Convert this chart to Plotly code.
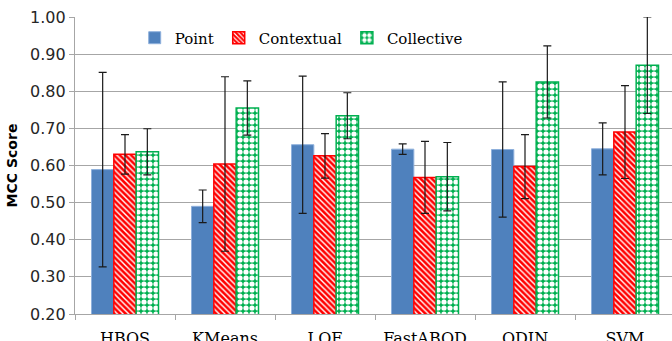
import plotly.graph_objects as go

categories = ["HBOS", "KMeans", "LOF", "FastABOD", "ODIN", "SVM"]
point = [0.589, 0.490, 0.656, 0.644, 0.643, 0.645]
point_err = [0.262, 0.044, 0.185, 0.014, 0.182, 0.070]
contextual = [0.630, 0.604, 0.626, 0.568, 0.597, 0.690]
contextual_err = [0.053, 0.235, 0.060, 0.097, 0.086, 0.125]
collective = [0.637, 0.755, 0.734, 0.570, 0.825, 0.870]
collective_err = [0.062, 0.073, 0.062, 0.092, 0.097, 0.130]

err_style = dict(type="data", visible=True, color="#1a1a1a", thickness=1.2, width=4)

fig = go.Figure()
fig.add_trace(go.Bar(
    name="Point", x=categories, y=point,
    error_y=dict(array=point_err, **err_style),
    marker=dict(color="#4F81BD", line=dict(color="#8EB0DC", width=1)),
))
fig.add_trace(go.Bar(
    name="Contextual", x=categories, y=contextual,
    error_y=dict(array=contextual_err, **err_style),
    marker=dict(color="#FF0000", line=dict(color="#FF0000", width=1.5),
                pattern=dict(shape="\\", bgcolor="#FF0000", fgcolor="#FFFFFF",
                             size=4, solidity=0.35, fillmode="replace")),
))
fig.add_trace(go.Bar(
    name="Collective", x=categories, y=collective,
    error_y=dict(array=collective_err, **err_style),
    marker=dict(color="#00B050", line=dict(color="#00B050", width=1.5),
                pattern=dict(shape=".", bgcolor="#00B050", fgcolor="#FFFFFF",
                             size=6, solidity=0.6, fillmode="replace")),
))

fig.update_layout(
    width=672, height=341,
    margin=dict(l=75, r=0, t=17, b=27),
    paper_bgcolor="white", plot_bgcolor="white",
    barmode="group", bargap=0.33, bargroupgap=0,
    showlegend=True,
    legend=dict(orientation="h", x=0.1, y=0.985, xanchor="left", yanchor="top",
                font=dict(family="DejaVu Serif", size=15, color="#000000"),
                bgcolor="rgba(0,0,0,0)", itemwidth=30),
    xaxis=dict(
        type="category", range=[-0.5, 5.47],
        showgrid=False, showline=True, linecolor="#A6A6A6", linewidth=1.3,
        ticks="outside", tickson="boundaries", ticklen=5, tickcolor="#A6A6A6",
        tickfont=dict(family="DejaVu Serif", size=16, color="#000000"),
        automargin=False, ticklabelstandoff=10,
    ),
    yaxis=dict(
        range=[0.2, 1.0], tickvals=[0.2, 0.3, 0.4, 0.5, 0.6, 0.7, 0.8, 0.9, 1.0],
        tickformat=".2f",
        showgrid=True, gridcolor="#A6A6A6", gridwidth=1.3,
        showline=True, linecolor="#A6A6A6", linewidth=1.3,
        ticks="outside", ticklen=5, tickcolor="#A6A6A6",
        tickfont=dict(family="DejaVu Sans", size=16, color="#262626"),
        title=dict(text="MCC Score", font=dict(family="DejaVu Sans", size=14, color="#000000", weight="bold"), standoff=9),
        automargin=False, zeroline=False,
    ),
)

fig.write_html("out.html", config={"displayModeBar": False},
               post_script="document.body.style.margin='0px';")
